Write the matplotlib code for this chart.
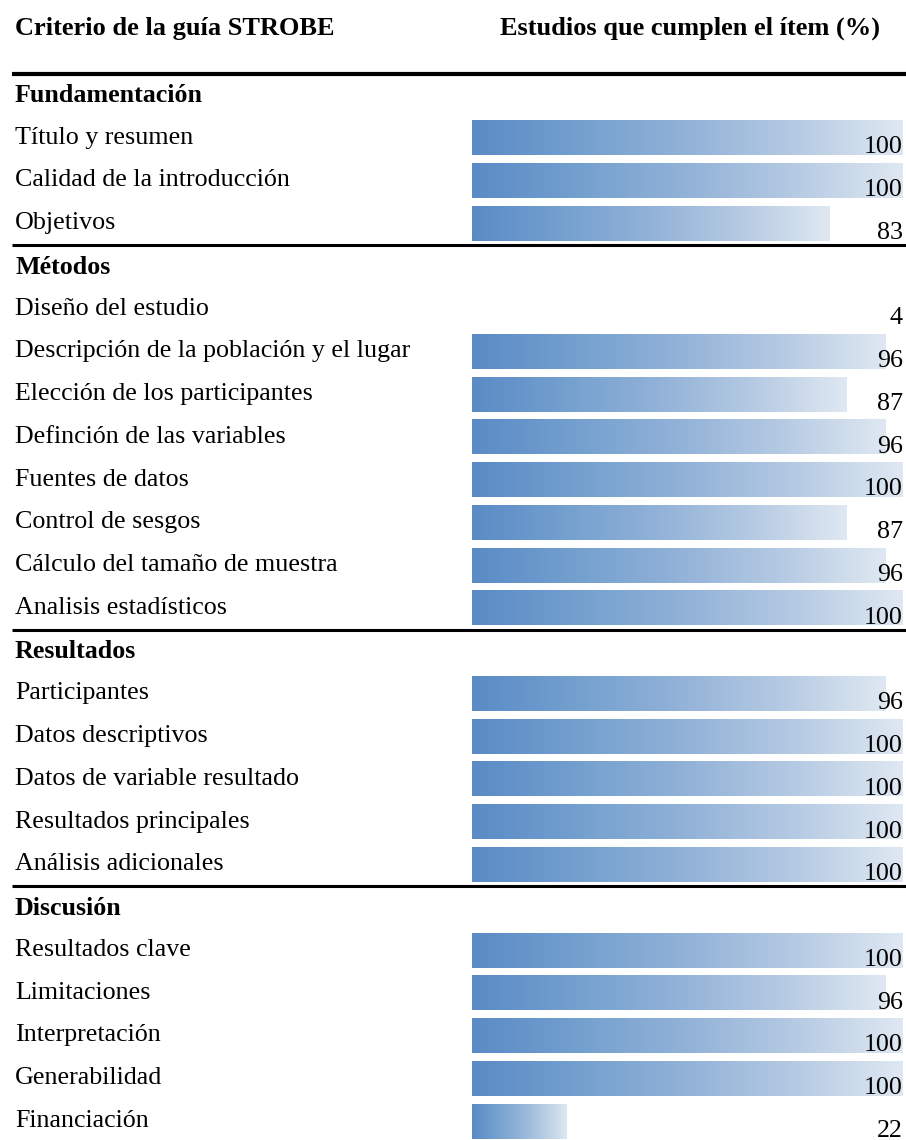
import numpy as np
import matplotlib.pyplot as plt
from matplotlib.colors import LinearSegmentedColormap
from matplotlib.transforms import blended_transform_factory

# sections and items of the STROBE checklist
secciones = ["Fundamentación", "Métodos", "Resultados", "Discusión"]
items = [
    ["Título y resumen", "Calidad de la introducción", "Objetivos"],
    ["Diseño del estudio", "Descripción de la población y el lugar",
     "Elección de los participantes", "Definción de las variables",
     "Fuentes de datos", "Control de sesgos", "Cálculo del tamaño de muestra",
     "Analisis estadísticos"],
    ["Participantes", "Datos descriptivos", "Datos de variable resultado",
     "Resultados principales", "Análisis adicionales"],
    ["Resultados clave", "Limitaciones", "Interpretación", "Generabilidad",
     "Financiación"],
]
valores = [
    [100, 100, 83],
    [4, 96, 87, 96, 100, 87, 96, 100],
    [96, 100, 100, 100, 100],
    [100, 96, 100, 100, 22],
]
# the 4% bar is not drawn in the original
mostrar_barra = [
    [True, True, True],
    [False, True, True, True, True, True, True, True],
    [True] * 5,
    [True] * 5,
]

plt.rcParams['font.family'] = ['Liberation Serif', 'DejaVu Serif']

W, H = 906, 1140
fig = plt.figure(figsize=(W / 100, H / 100), dpi=100)

x0, x1 = 472, 903          # pixel extent of 0..100 %
row0, pitch = 95.2, 42.76  # pixel centre of first row and row spacing
ax = fig.add_axes([x0 / W, 0, (x1 - x0) / W, 1])
ax.axis('off')

cmap = LinearSegmentedColormap.from_list(
    "barra", ["#5a8bc6", "#74a0cf", "#92b2d8", "#b5cae3", "#dfe8f2"])
grad = np.linspace(0, 1, 256).reshape(1, -1)

trans = blended_transform_factory(fig.transFigure, ax.transData)
lab_x = 15 / W
fs = 18.7
bh = 0.8

# header
hy = (28 - row0) / pitch
ax.text(lab_x, hy, "Criterio de la guía STROBE", transform=trans,
        fontsize=19, fontweight='bold', va='center', ha='left')
ax.text(500 / W, hy, "Estudios que cumplen el ítem (%)", transform=trans,
        fontsize=19, fontweight='bold', va='center', ha='left')
ax.plot([12 / W, 1], [-0.5, -0.5], transform=trans, color='black', lw=3,
        clip_on=False, solid_capstyle='butt')

r = 0
for s, sec in enumerate(secciones):
    if s > 0:
        ax.plot([12 / W, 1], [r - 0.5, r - 0.5], transform=trans,
                color='black', lw=2.2, clip_on=False, solid_capstyle='butt')
    ax.text(lab_x, r + 0.17, sec, transform=trans, fontsize=fs,
            fontweight='bold', va='baseline', ha='left')
    r += 1
    for name, v, show in zip(items[s], valores[s], mostrar_barra[s]):
        if show:
            ax.imshow(grad, cmap=cmap, aspect='auto', interpolation='bilinear',
                      extent=[0, v, r + bh / 2, r - bh / 2], zorder=1)
        ax.text(lab_x, r + 0.13, name, transform=trans, fontsize=fs,
                va='baseline', ha='left')
        ax.text(100, r + 0.36, str(v), fontsize=fs, va='baseline',
                ha='right', clip_on=False, zorder=3)
        r += 1

ax.set_xlim(0, 100)
ax.set_ylim((H - row0) / pitch, -row0 / pitch)
fig.savefig("out.png", dpi=100)
